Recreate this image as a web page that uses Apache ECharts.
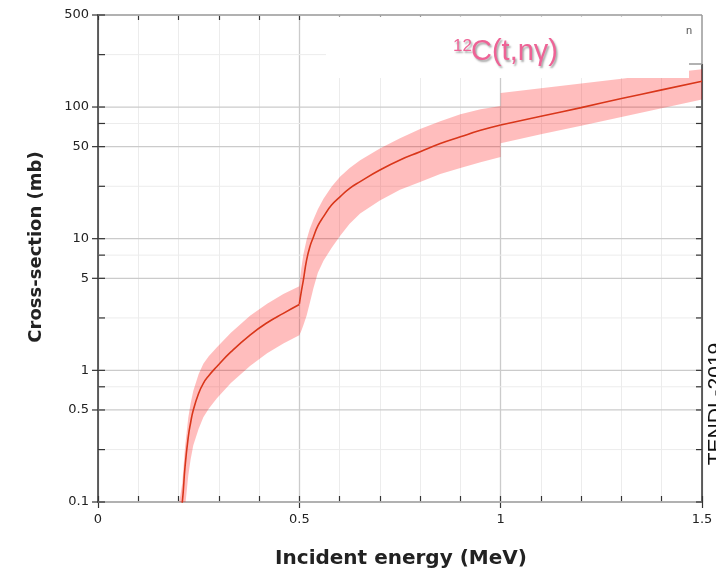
<!DOCTYPE html>
<html><head><meta charset="utf-8">
<script src="https://cdn.jsdelivr.net/npm/echarts@6/dist/echarts.min.js"></script>
<style>html,body{margin:0;padding:0;background:#fff}#c{width:716px;height:571px}</style>
</head><body><div id="c"></div>
<script>
// ---- data (energy in MeV, cross-section in mb) ----
const seg1Energy = [0.198, 0.202, 0.2094, 0.2161, 0.2243, 0.23, 0.2367, 0.25, 0.2616, 0.275, 0.2948, 0.33, 0.3775, 0.42, 0.4603, 0.5];
const seg1Center = [0.045, 0.071, 0.1, 0.185, 0.313, 0.40, 0.50, 0.67, 0.797, 0.91, 1.065, 1.38, 1.853, 2.3, 2.71, 3.16];
const seg1Upper  = [0.063, 0.1, 0.14, 0.26, 0.44, 0.56, 0.70, 0.94, 1.12, 1.28, 1.49, 1.93, 2.6, 3.2, 3.8, 4.35];
const seg1Lower  = [0.022, 0.035, 0.05, 0.09, 0.16, 0.21, 0.27, 0.36, 0.44, 0.51, 0.61, 0.80, 1.08, 1.35, 1.6, 1.85];

const seg2Energy = [0.5, 0.505, 0.51, 0.518, 0.526, 0.535, 0.546, 0.56, 0.58, 0.601, 0.625, 0.651, 0.7, 0.75, 0.8, 0.85, 0.9, 0.95, 1.0];
const seg2Center = [3.2, 3.98, 4.85, 6.88, 8.66, 10.3, 12.5, 14.7, 18.0, 20.8, 24.1, 27.1, 33.2, 39.6, 45.7, 52.8, 59.4, 66.5, 73];
const seg2Upper  = [4.35, 6.0, 7.6, 9.8, 11.9, 14.0, 16.7, 20.1, 24.8, 29.5, 34.5, 39.5, 48.5, 58, 68, 78, 88, 96, 102];
const seg2Lower  = [1.85, 2.0, 2.2, 2.6, 3.25, 4.2, 5.5, 6.8, 8.5, 10.5, 13, 15.5, 19.5, 23.5, 27, 31, 34.5, 38, 41.7];

const seg3Energy = [1.0, 1.1, 1.2, 1.3, 1.4, 1.5];
const seg3Center = [73, 85, 99, 116, 135, 157];
const seg3Upper  = [128, 139, 151, 164, 179, 194];
const seg3Lower  = [53, 62, 72, 84, 98, 114];

const xTickValues = [0, 0.5, 1, 1.5];
const xTickLabels = ['0', '0.5', '1', '1.5'];
const yMajorValues = [0.1, 0.5, 1, 5, 10, 50, 100, 500];
const yMajorLabels = ['0.1', '0.5', '1', '5', '10', '50', '100', '500'];
const yMinorValues = [0.25, 0.75, 2.5, 7.5, 25, 75, 250];

const xMin = 0, xMax = 1.5, yMin = 0.1, yMax = 500;

// ---- chart ----
const segments = [
  {e: seg1Energy, c: seg1Center, u: seg1Upper, l: seg1Lower},
  {e: seg2Energy, c: seg2Center, u: seg2Upper, l: seg2Lower},
  {e: seg3Energy, c: seg3Center, u: seg3Upper, l: seg3Lower}
];
const axisColor = '#333';
const lineColor = '#d9361a';
const bandColor = 'rgba(255,0,0,0.26)';
const tickFont = '13px "DejaVu Sans"';

function pairs(e, v) { return e.map((x, i) => [x, v[i]]); }

const gridData = yMajorValues.map((v, i) => [xMin, v, 1, i]).concat(yMinorValues.map((v, i) => [xMin, v, 0, i]));

const chart = echarts.init(document.getElementById('c'), null, {renderer: 'canvas'});
const baseX = {
  type: 'value', min: xMin, max: xMax,
  axisLine: {show: false, onZero: false},
  axisTick: {show: false}, axisLabel: {show: false}, splitLine: {show: false}
};
const option = {
  animation: false,
  grid: {left: 98, top: 15, width: 604, height: 487, containLabel: false, outerBoundsMode: 'none'},
  xAxis: [
    Object.assign({}, baseX, {
      position: 'bottom', interval: 0.1,
      axisLine: {show: true, onZero: false, lineStyle: {color: axisColor, width: 1.5}},
      axisTick: {show: true, inside: true, length: 6, lineStyle: {color: axisColor, width: 1.2}},
      splitLine: {show: true, lineStyle: {color: '#ececec', width: 1}}
    }),
    Object.assign({}, baseX, {
      position: 'bottom', interval: 0.5,
      axisTick: {show: true, inside: false, length: 6, lineStyle: {color: axisColor, width: 1.2}},
      axisLabel: {show: true, margin: 11, color: '#222', fontFamily: 'DejaVu Sans', fontSize: 13,
        formatter: function (v) {
          for (let i = 0; i < xTickValues.length; i++) if (Math.abs(v - xTickValues[i]) < 1e-6) return xTickLabels[i];
          return '';
        }},
      splitLine: {show: true, lineStyle: {color: '#cbcbcb', width: 1.3}}
    }),
    Object.assign({}, baseX, {
      position: 'top', interval: 0.1,
      axisLine: {show: true, onZero: false, lineStyle: {color: axisColor, width: 1.5}},
      axisTick: {show: true, inside: true, length: 5, lineStyle: {color: axisColor, width: 1.2}}
    })
  ],
  yAxis: [
    {type: 'log', logBase: 10, min: yMin, max: yMax, position: 'left',
     axisLine: {show: true, onZero: false, lineStyle: {color: axisColor, width: 1.5}},
     axisTick: {show: false}, axisLabel: {show: false}, splitLine: {show: false}},
    {type: 'log', logBase: 10, min: yMin, max: yMax, position: 'right',
     axisLine: {show: true, onZero: false, lineStyle: {color: axisColor, width: 1.5}},
     axisTick: {show: false}, axisLabel: {show: false}, splitLine: {show: false}}
  ],
  series: [
    { // horizontal grid lines
      type: 'custom', coordinateSystem: 'cartesian2d', xAxisIndex: 0, yAxisIndex: 0, z: 1, silent: true,
      data: gridData, encode: {x: 0, y: 1},
      renderItem: function (params, api) {
        const v = api.value(1), major = api.value(2) === 1;
        const p0 = api.coord([xMin, v]), p1 = api.coord([xMax, v]);
        return {type: 'line', shape: {x1: p0[0], y1: p0[1], x2: p1[0], y2: p1[1]},
          style: {stroke: major ? '#cbcbcb' : '#ececec', lineWidth: major ? 1.3 : 1}};
      }
    },
    { // uncertainty band
      type: 'custom', coordinateSystem: 'cartesian2d', xAxisIndex: 0, yAxisIndex: 0, z: 2, silent: true,
      data: segments.map((s, i) => [s.e[0], s.c[0], i]), encode: {x: 0, y: 1},
      renderItem: function (params, api) {
        const s = segments[api.value(2)];
        const pts = [];
        for (let j = 0; j < s.e.length; j++) pts.push(api.coord([s.e[j], s.u[j]]));
        for (let j = s.e.length - 1; j >= 0; j--) pts.push(api.coord([s.e[j], s.l[j]]));
        const cs = params.coordSys;
        return {type: 'polygon', shape: {points: pts}, style: {fill: bandColor},
          clipPath: {type: 'rect', shape: {x: cs.x, y: cs.y, width: cs.width, height: cs.height}}};
      }
    }
  ].concat(segments.map(s => ({
    type: 'line', xAxisIndex: 0, yAxisIndex: 0, z: 3, silent: true,
    data: pairs(s.e, s.c), showSymbol: false, smooth: 0.5, clip: true,
    lineStyle: {color: lineColor, width: 1.6}
  }))).concat([
    { // y ticks and labels
      type: 'custom', coordinateSystem: 'cartesian2d', xAxisIndex: 0, yAxisIndex: 0, z: 10, silent: true,
      data: gridData, encode: {x: 0, y: 1}, clip: false,
      renderItem: function (params, api) {
        const v = api.value(1), major = api.value(2) === 1, idx = api.value(3);
        const p0 = api.coord([xMin, v]), p1 = api.coord([xMax, v]);
        const st = {stroke: axisColor, lineWidth: 1.2};
        const ch = [
          {type: 'line', shape: {x1: p0[0] + (major ? -6 : 0), y1: p0[1], x2: p0[0] + 7, y2: p0[1]}, style: st},
          {type: 'line', shape: {x1: p1[0] - 6, y1: p1[1], x2: p1[0], y2: p1[1]}, style: st}
        ];
        if (major) ch.push({type: 'text', x: p0[0] - 9, y: p0[1],
          style: {text: yMajorLabels[idx], font: tickFont, fill: '#222', align: 'right', verticalAlign: 'middle'}});
        return {type: 'group', children: ch};
      }
    }
  ]),
  graphic: [
    {type: 'rect', z: 100, shape: {x: 326, y: 16.5, width: 363, height: 61.5}, style: {fill: '#fff'}},
    {type: 'rect', z: 100, shape: {x: 689, y: 16.5, width: 12.3, height: 47.5}, style: {fill: '#fff'}},
    {type: 'rect', z: 100, shape: {x: 424, y: 12, width: 282, height: 4.5}, style: {fill: '#fff'}},
    {type: 'rect', z: 100, shape: {x: 700.2, y: 12, width: 5, height: 52}, style: {fill: '#fff'}},
    {type: 'line', z: 101, shape: {x1: 424, y1: 15, x2: 702, y2: 15}, style: {stroke: '#999', lineWidth: 1.5}},
    {type: 'line', z: 101, shape: {x1: 702, y1: 15, x2: 702, y2: 64}, style: {stroke: '#999', lineWidth: 1.5}},
    {type: 'line', z: 101, shape: {x1: 689, y1: 64, x2: 702, y2: 64}, style: {stroke: '#999', lineWidth: 1.5}},
    {type: 'text', z: 102, x: 689, y: 31, style: {text: 'n', font: '11px "Liberation Sans"', fill: '#555', align: 'center', verticalAlign: 'middle'}},
    {type: 'text', z: 102, x: 453, y: 46.5, style: {text: '12', font: '17px "Liberation Sans"', fill: '#ee6396', align: 'left', verticalAlign: 'middle',
      textShadowColor: 'rgba(0,0,0,0.35)', textShadowBlur: 2, textShadowOffsetX: 1.5, textShadowOffsetY: 1.5}},
    {type: 'text', z: 102, x: 471, y: 52, style: {text: 'C(t,nγ)', font: '29px "Liberation Sans"', fill: '#ee6396', align: 'left', verticalAlign: 'middle',
      textShadowColor: 'rgba(0,0,0,0.35)', textShadowBlur: 2, textShadowOffsetX: 1.5, textShadowOffsetY: 1.5}},
    {type: 'text', z: 102, x: 716, y: 404, rotation: Math.PI / 2, style: {text: 'TENDL-2019', font: '21px "Liberation Sans"', fill: '#111', align: 'center', verticalAlign: 'middle'}},
    {type: 'text', z: 102, x: 36, y: 247, rotation: Math.PI / 2, style: {text: 'Cross-section (mb)', font: 'bold 18px "DejaVu Sans"', fill: '#222', align: 'center', verticalAlign: 'middle'}},
    {type: 'text', z: 102, x: 401, y: 559, style: {text: 'Incident energy (MeV)', font: 'bold 20px "DejaVu Sans"', fill: '#222', align: 'center', verticalAlign: 'middle'}}
  ]
};
chart.setOption(option);
</script></body></html>
